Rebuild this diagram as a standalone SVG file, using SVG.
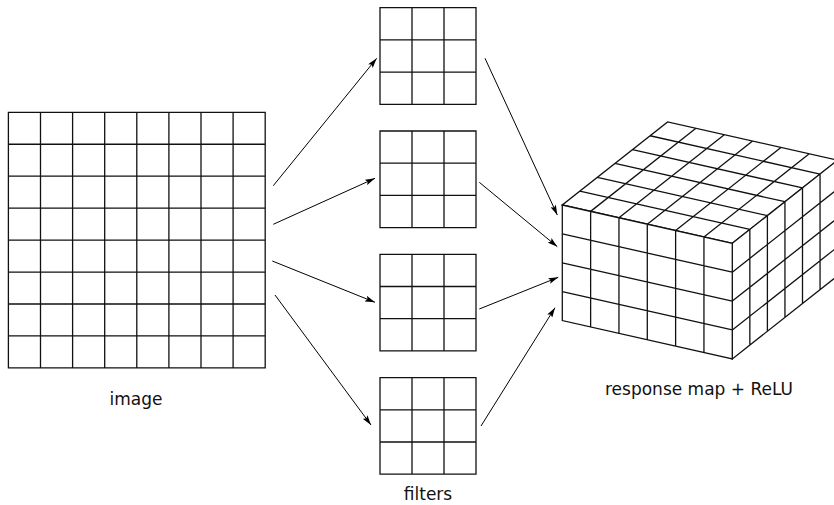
<svg xmlns="http://www.w3.org/2000/svg" width="834" height="505" viewBox="0 0 834 505">
<style>
.g{fill:#fff;stroke:#111;stroke-width:1.3;vector-effect:non-scaling-stroke;stroke-linejoin:miter}
.c{fill:none;stroke:#000;stroke-width:1}
.t{font-family:"DejaVu Sans",sans-serif;font-size:17px;fill:#111;text-anchor:middle}
</style>
<defs>
<marker id="ah" markerUnits="userSpaceOnUse" markerWidth="10" markerHeight="6" viewBox="0 0 10 6" refX="10" refY="3" orient="auto">
<path d="M0,0 L10,3 L0,6 L2,3 Z" fill="#000"/>
</marker>
</defs>
<rect width="834" height="505" fill="#fff"/>
<g id="image">
<path class="g" transform="matrix(32.1 0 0 31.95 8.4 112.3)" d="M0,0H8V8H0Z M1,0V8 M2,0V8 M3,0V8 M4,0V8 M5,0V8 M6,0V8 M7,0V8 M0,1H8 M0,2H8 M0,3H8 M0,4H8 M0,5H8 M0,6H8 M0,7H8"/>
<text class="t" x="136" y="405">image</text>
</g>
<g id="filter1">
<path class="g" transform="matrix(32 0 0 32.2 380 7.7)" d="M0,0H3V3H0Z M1,0V3 M2,0V3 M0,1H3 M0,2H3"/>
</g>
<g id="filter2">
<path class="g" transform="matrix(32 0 0 32.2 380 131)" d="M0,0H3V3H0Z M1,0V3 M2,0V3 M0,1H3 M0,2H3"/>
</g>
<g id="filter3">
<path class="g" transform="matrix(32 0 0 32.2 380 254.3)" d="M0,0H3V3H0Z M1,0V3 M2,0V3 M0,1H3 M0,2H3"/>
</g>
<g id="filter4">
<path class="g" transform="matrix(32 0 0 32.2 380 377.6)" d="M0,0H3V3H0Z M1,0V3 M2,0V3 M0,1H3 M0,2H3"/>
</g>
<text class="t" x="428" y="500">filters</text>
<g id="response">
<path class="g" transform="matrix(28.33 6.38 17.55 -13.85 562.3 205)" d="M0,0H6V6H0Z M1,0V6 M2,0V6 M3,0V6 M4,0V6 M5,0V6 M0,1H6 M0,2H6 M0,3H6 M0,4H6 M0,5H6"/>
<path class="g" transform="matrix(17.55 -13.85 0 28.9 732.3 243.3)" d="M0,0H6V4H0Z M1,0V4 M2,0V4 M3,0V4 M4,0V4 M5,0V4 M0,1H6 M0,2H6 M0,3H6"/>
<path class="g" transform="matrix(28.33 6.38 0 28.9 562.3 205)" d="M0,0H6V4H0Z M1,0V4 M2,0V4 M3,0V4 M4,0V4 M5,0V4 M0,1H6 M0,2H6 M0,3H6"/>
<text class="t" x="699" y="395">response map + ReLU</text>
</g>
<g id="connectors">
<line class="c" x1="273.3" y1="185.7" x2="376.7" y2="58.3" marker-end="url(#ah)"/>
<line class="c" x1="273.3" y1="224.3" x2="375" y2="178.3" marker-end="url(#ah)"/>
<line class="c" x1="272.3" y1="261" x2="375" y2="302.3" marker-end="url(#ah)"/>
<line class="c" x1="275" y1="295" x2="371" y2="425" marker-end="url(#ah)"/>
<line class="c" x1="485" y1="58.3" x2="557.3" y2="215" marker-end="url(#ah)"/>
<line class="c" x1="479.3" y1="182.3" x2="557.3" y2="246.7" marker-end="url(#ah)"/>
<line class="c" x1="479.3" y1="309" x2="558.3" y2="277.3" marker-end="url(#ah)"/>
<line class="c" x1="481" y1="426" x2="555" y2="307.7" marker-end="url(#ah)"/>
</g>
</svg>
